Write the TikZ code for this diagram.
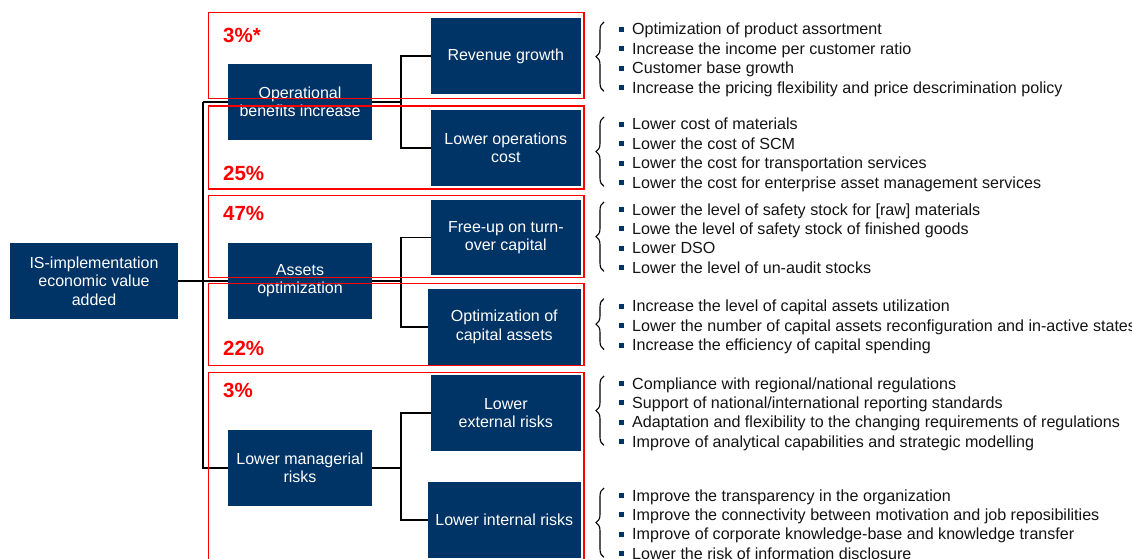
\documentclass[tikz,border=0pt]{standalone}
\usepackage{fontspec}
\setmainfont{Liberation Sans}
\usetikzlibrary{decorations.pathreplacing}
\definecolor{navy}{RGB}{0,51,102}
\definecolor{pred}{RGB}{255,0,0}
\definecolor{btxt}{RGB}{20,20,20}
\pgfdeclarelayer{bg}
\pgfsetlayers{bg,main}
\begin{document}
\begin{tikzpicture}[x=1pt,y=-1pt,
  box/.style={fill=navy,text=white,inner sep=0pt,align=center,font=\fontsize{16}{18.5}\selectfont},
  mainbox/.style={box,minimum width=144pt,minimum height=75.6pt},
  subbox/.style={box,minimum width=149.6pt,minimum height=75.6pt},
  widebox/.style={box,minimum width=152.6pt,minimum height=76pt},
  conn/.style={draw=black,line width=1.6pt},
  redframe/.style={draw=pred,line width=1.4pt},
  pct/.style={text=pred,font=\fontsize{20.5}{24}\selectfont\bfseries,anchor=base west,inner sep=0pt},
  item/.style={text=btxt,font=\fontsize{16.1}{19}\selectfont,anchor=base west,inner sep=0pt},
  bul/.style={fill=navy,minimum size=5pt,inner sep=0pt},
  brc/.style={draw=black,line width=1.1pt,decorate,decoration={brace,amplitude=8pt}}
]
\useasboundingbox (0,0) rectangle (1132,559);
\clip (0,0) rectangle (1132,559);

% junction x positions
\coordinate (tx) at (202.7,0);
\coordinate (sx) at (401,0);

% main boxes
\node[box,minimum width=168pt,minimum height=75.6pt] (is) at (94,280.85) {IS-implementation\\economic value\\added};
\node[mainbox] (ob) at (300,101.9) {Operational\\benefits increase};
\node[mainbox] (ao) at (300,280.85) {Assets\\optimization};
\node[mainbox] (mr) at (300,468) {Lower managerial\\risks};

% sub boxes
\node[subbox] (rg) at (505.8,56) {Revenue growth};
\node[subbox] (lo) at (505.8,147.85) {Lower operations\\cost};
\node[subbox] (fu) at (505.8,237.65) {Free-up on turn-\\over capital};
\node[widebox] (oc) at (504.3,327) {Optimization of\\capital assets};
\node[subbox] (le) at (505.8,413) {Lower\\external risks};
\node[widebox] (li) at (504.3,520) {Lower internal risks};

% background and connectors
\begin{pgfonlayer}{bg}
\fill[white] (0,0) rectangle (1132,559);
\draw[conn] (is.east) -- (is.east -| sx);
\draw[conn] (ob.west -| tx) -- (ob.east -| sx);
\draw[conn] (ob.west -| tx) -- (mr.west -| tx) -- (mr.west);
\draw[conn] (mr.east) -- (mr.east -| sx);
\draw[conn] (rg.west) -- (rg.west -| sx) -- (lo.west -| sx) -- (lo.west);
\draw[conn] (fu.west) -- (fu.west -| sx) -- (oc.west -| sx) -- (oc.west);
\draw[conn] (le.west) -- (le.west -| sx) -- (li.west -| sx) -- (li.west);
\end{pgfonlayer}

% red frames
\draw[redframe] (208.6,12.3) rectangle (584,98.3);
\draw[redframe] (208.6,106) rectangle (584,189);
\draw[redframe] (208.6,195.3) rectangle (584,277.6);
\draw[redframe] (208.6,283.3) rectangle (584,365.7);
\draw[redframe] (208.6,372.7) rectangle (584,580);

% percentages
\node[pct] (p1) at (223,42.5) {3\%*};
\node[pct] (p2) at (223,180) {25\%};
\node[pct] (p3) at (223,220.7) {47\%};
\node[pct] (p4) at (223,355) {22\%};
\node[pct] (p5) at (223,397.3) {3\%};

% bullet lists
\def\lsp{19.43}
\foreach \t [count=\i] in {{Optimization of product assortment},{Increase the income per customer ratio},{Customer base growth},{Increase the pricing flexibility and price descrimination policy}}
  {\node[item] (a\i) at (632,35+\i*\lsp-\lsp) {\t};
   \node[bul] (ab\i) at (621.5,29.5+\i*\lsp-\lsp) {};}
\foreach \t [count=\i] in {{Lower cost of materials},{Lower the cost of SCM},{Lower the cost for transportation services},{Lower the cost for enterprise asset management services}}
  {\node[item] (b\i) at (632,130+\i*\lsp-\lsp) {\t};
   \node[bul] (bb\i) at (621.5,124.5+\i*\lsp-\lsp) {};}
\foreach \t [count=\i] in {{Lower the level of safety stock for [raw] materials},{Lowe the level of safety stock of finished goods},{Lower DSO},{Lower the level of un-audit stocks}}
  {\node[item] (c\i) at (632,215+\i*\lsp-\lsp) {\t};
   \node[bul] (cb\i) at (621.5,209.5+\i*\lsp-\lsp) {};}
\foreach \t [count=\i] in {{Increase the level of capital assets utilization},{Lower the number of capital assets reconfiguration and in-active states},{Increase the efficiency of capital spending}}
  {\node[item] (d\i) at (632,311.7+\i*\lsp-\lsp) {\t};
   \node[bul] (db\i) at (621.5,306.2+\i*\lsp-\lsp) {};}
\foreach \t [count=\i] in {{Compliance with regional/national regulations},{Support of national/international reporting standards},{Adaptation and flexibility to the changing requirements of regulations},{Improve of analytical capabilities and strategic modelling}}
  {\node[item] (e\i) at (632,389+\i*\lsp-\lsp) {\t};
   \node[bul] (eb\i) at (621.5,383.5+\i*\lsp-\lsp) {};}
\foreach \t [count=\i] in {{Improve the transparency in the organization},{Improve the connectivity between motivation and job reposibilities},{Improve of corporate knowledge-base and knowledge transfer},{Lower the risk of information disclosure}}
  {\node[item] (f\i) at (632,501+\i*\lsp-\lsp) {\t};
   \node[bul] (fb\i) at (621.5,495.5+\i*\lsp-\lsp) {};}

% braces
\draw[brc] (604,91.3) -- (604,22);
\draw[brc] (604,186.3) -- (604,117);
\draw[brc] (604,271.3) -- (604,202);
\draw[brc] (604,349.5) -- (604,298.7);
\draw[brc] (604,445.3) -- (604,376);
\draw[brc] (604,557.3) -- (604,488);
\end{tikzpicture}
\end{document}
